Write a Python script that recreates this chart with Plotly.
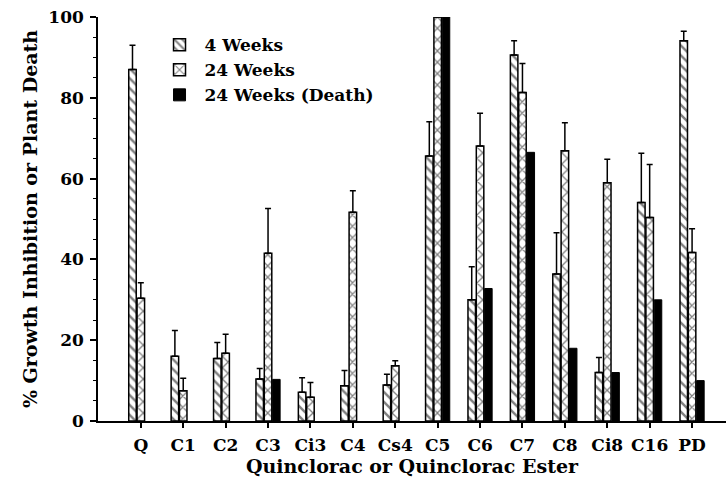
import plotly.graph_objects as go

categories = ["Q", "C1", "C2", "C3", "Ci3", "C4", "Cs4", "C5", "C6", "C7", "C8", "Ci8", "C16", "PD"]

wk4 = [87, 16, 15.5, 10.4, 7.1, 8.7, 8.9, 65.6, 30, 90.6, 36.4, 12, 54.1, 94.1]
wk4_err = [6, 6.4, 3.9, 2.6, 3.6, 3.8, 2.7, 8.5, 8.2, 3.5, 10.2, 3.7, 12.2, 2.4]

wk24 = [30.4, 7.5, 16.8, 41.5, 5.9, 51.7, 13.7, 100, 68.1, 81.3, 66.9, 59, 50.4, 41.7]
wk24_err = [3.8, 3.1, 4.7, 11.1, 3.6, 5.3, 1.2, 0, 8.1, 7.2, 6.9, 5.8, 13.1, 5.9]

death = [None, None, None, 10.3, None, None, None, 100, 32.8, 66.5, 18, 12, 30, 10]

zeros = [0] * len(categories)
FONT = "DejaVu Serif"
TFS = 19
FS = 17

fig = go.Figure()
fig.add_trace(go.Bar(
    x=categories, y=wk4, name="4 Weeks",
    marker=dict(color="white", line=dict(color="black", width=1.5),
                pattern=dict(shape="\\", fgcolor="black", bgcolor="white", size=7, solidity=0.35)),
    error_y=dict(type="data", symmetric=False, array=wk4_err, arrayminus=zeros,
                 color="black", thickness=1.5, width=3),
))
fig.add_trace(go.Bar(
    x=categories, y=wk24, name="24 Weeks",
    marker=dict(color="white", line=dict(color="black", width=1.5),
                pattern=dict(shape="x", fgcolor="black", bgcolor="white", size=8, solidity=0.3)),
    error_y=dict(type="data", symmetric=False, array=wk24_err, arrayminus=zeros,
                 color="black", thickness=1.5, width=3),
))
fig.add_trace(go.Bar(
    x=categories, y=death, name="24 Weeks (Death)",
    marker=dict(color="black", line=dict(color="black", width=1)),
))

fig.update_layout(
    width=726, height=483,
    margin=dict(l=98, r=0, t=17, b=62),
    paper_bgcolor="white", plot_bgcolor="white",
    barmode="group", bargap=0.41, bargroupgap=0.1,
    font=dict(family=FONT, size=FS, color="black", weight="bold"),
    showlegend=True,
    legend=dict(x=0.09, y=0.975, xanchor="left", yanchor="top",
                bgcolor="rgba(0,0,0,0)", font=dict(size=FS, family=FONT, weight="bold"),
                itemwidth=40, tracegroupgap=2),
)
fig.update_xaxes(
    type="category", range=[-1.01, 13.8],
    showline=True, linecolor="black", linewidth=1.5,
    ticks="outside", ticklen=5, tickwidth=1.5, tickcolor="black",
    ticklabelstandoff=3,
    showgrid=False, zeroline=False,
    tickfont=dict(size=FS, family=FONT, weight="bold"),
    title=dict(text="Quinclorac or Quinclorac Ester", standoff=6,
               font=dict(size=TFS, family=FONT, weight="bold")),
)
fig.update_yaxes(
    range=[0, 100], dtick=20,
    showline=True, linecolor="black", linewidth=1.5,
    ticks="outside", ticklen=6, tickwidth=1.5, tickcolor="black",
    ticklabelstandoff=3,
    minor=dict(dtick=5, ticks="outside", ticklen=3, tickcolor="black", tickwidth=1),
    showgrid=False, zeroline=False,
    tickfont=dict(size=FS, family=FONT, weight="bold"),
    title=dict(text="% Growth Inhibition or Plant Death", standoff=6,
               font=dict(size=TFS, family=FONT, weight="bold")),
)

fig.write_html("out.html")
